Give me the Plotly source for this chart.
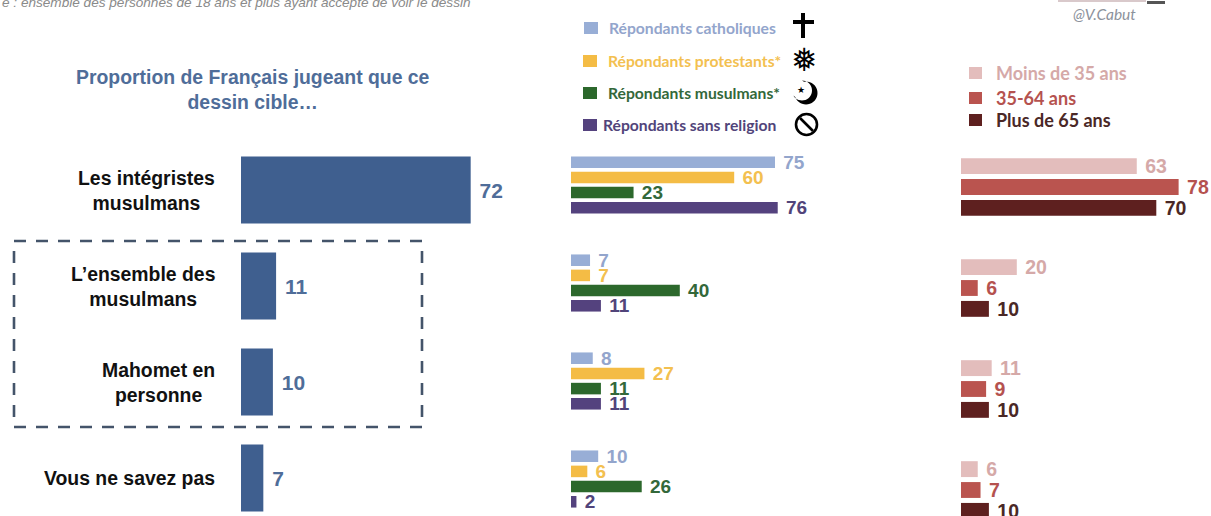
import math
import plotly.graph_objects as go

W, H = 1211, 516

# ---- data ----
categories = ["Les intégristes<br>musulmans", "L’ensemble des<br>musulmans",
              "Mahomet en<br>personne", "Vous ne savez pas"]
ensemble = [72, 11, 10, 7]
catholiques = [75, 7, 8, 10]
protestants = [60, 7, 27, 6]
musulmans = [23, 40, 11, 26]
sans_religion = [76, 11, 11, 2]
moins_35 = [63, 20, 11, 6]
de_35_64 = [78, 6, 9, 7]
plus_65 = [70, 10, 10, 10]

religion_names = ["Répondants catholiques", "Répondants protestants*",
                  "Répondants musulmans*", "Répondants sans religion"]
age_names = ["Moins de 35 ans", "35-64 ans", "Plus de 65 ans"]
title_text = "Proportion de Français jugeant que ce<br>dessin cible…"
note_text = "e : ensemble des personnes de 18 ans et plus ayant accepté de voir le dessin"
credit_text = "@V.Cabut"

# ---- styles ----
BLUE = "#3f5f8f"; BLUE_T = "#4f6d99"
C_CATH = "#98aed6"; C_PROT = "#f4bc45"; C_MUS = "#2c682c"; C_SANS = "#54427e"
T_CATH = "#93a5cc"; T_PROT = "#f3c050"; T_MUS = "#33683a"; T_SANS = "#51447a"
C_A1 = "#e3bdbc"; C_A2 = "#ba544f"; C_A3 = "#5e201f"
T_A1 = "#d5a9a8"; T_A2 = "#b5524f"; T_A3 = "#4a2826"
ARIAL = "Liberation Sans"
CALIBRI = "Lato"


def px(x):
    return x / W


def py(y):
    return 1 - y / H


def yrange(first_center, spacing):
    # reversed category axis filling the whole height
    return [(H - first_center) / spacing, -first_center / spacing]


def bars(values, name, color, tcolor, xa, ya, size, width=None, gap="\u00a0"):
    return go.Bar(
        y=categories, x=values, orientation="h", name=name, xaxis=xa, yaxis=ya,
        marker=dict(color=color, line=dict(width=0)), width=width,
        text=[gap + str(v) for v in values], textposition="outside",
        textfont=dict(family=ARIAL, size=size, color=tcolor, weight="bold"),
        cliponaxis=False, constraintext="none", showlegend=False, hoverinfo="skip",
    )


fig = go.Figure()
fig.add_trace(bars(ensemble, "Ensemble", BLUE, BLUE_T, "x", "y", 21, width=0.7))
for vals, n, c, t in zip([catholiques, protestants, musulmans, sans_religion], religion_names,
                         [C_CATH, C_PROT, C_MUS, C_SANS], [T_CATH, T_PROT, T_MUS, T_SANS]):
    fig.add_trace(bars(vals, n, c, t, "x2", "y2", 19))
for vals, n, c, t in zip([moins_35, de_35_64, plus_65], age_names,
                         [C_A1, C_A2, C_A3], [T_A1, T_A2, T_A3]):
    fig.add_trace(bars(vals, n, c, t, "x3", "y3", 19.5))

annotations = []
shapes = []


def label(text, x, y, size, color, family=ARIAL, xanchor="left", align="left", italic=False, bold=True):
    annotations.append(dict(
        text=text, x=px(x), y=py(y), xref="paper", yref="paper", showarrow=False,
        xanchor=xanchor, yanchor="middle", align=align,
        font=dict(family=family, size=size, color=color,
                  weight="bold" if bold else "normal",
                  style="italic" if italic else "normal"),
    ))


def square(x0, y0, x1, y1, color):
    shapes.append(dict(type="rect", xref="paper", yref="paper", x0=px(x0), x1=px(x1),
                       y0=py(y0), y1=py(y1), fillcolor=color, line=dict(width=0)))


# category labels (right edge aligned at the bar panel, lines centred)
for cat in categories:
    annotations.append(dict(
        text=cat, x=0, y=cat, xref="x", yref="y", xshift=-24, showarrow=False,
        xanchor="right", yanchor="middle", align="center",
        font=dict(family=ARIAL, size=19.4, color="#111111", weight="bold"),
    ))

label(title_text, 253, 90, 19.4, BLUE_T, xanchor="center", align="center")
label(note_text, 0, 2, 13.6, "#8a8a8a", italic=True, bold=False)
label(credit_text, 1071, 14, 15.5, "#8c929c", family=CALIBRI, italic=True, bold=False)

# religion legend
for name, y, sx0, tx, col, tcol in zip(
        religion_names, [28, 61, 93, 125], [584, 583, 583, 583], [607, 606, 606, 601],
        [C_CATH, C_PROT, C_MUS, C_SANS], [T_CATH, T_PROT, T_MUS, T_SANS]):
    square(sx0, y - 6, sx0 + 14, y + 6, col)
    label(name, tx, y, 15.7, tcol, family=CALIBRI)

# age legend
for name, y, col, tcol in zip(age_names, [73, 98, 120], [C_A1, C_A2, C_A3], [T_A1, T_A2, T_A3]):
    square(969, y - 6, 982, y + 6, col)
    label(name, 994, y, 18, tcol, family=CALIBRI)

# icons
square(801, 13, 805, 38, "#000000")
square(793, 20, 814, 24, "#000000")
label("❅", 804, 60, 32, "#000000", family="DejaVu Sans", xanchor="center", align="center", bold=False)
# crescent outline built in picture pixels
outer = [(806 + 11.5 * math.cos(math.radians(a)), 93 + 11.5 * math.sin(math.radians(a))) for a in range(-100, 161, 10)]
inner = [(802 + 10 * math.cos(math.radians(a)), 90.5 + 10 * math.sin(math.radians(a))) for a in range(150, -91, -10)]
path = "M " + " L ".join(f"{px(a):.5f},{py(b):.5f}" for a, b in outer + inner) + " Z"
shapes.append(dict(type="path", xref="paper", yref="paper", path=path, fillcolor="#000000", line=dict(width=0)))
label("★", 801, 90, 9, "#000000", family="DejaVu Sans", xanchor="center", align="center", bold=False)
shapes.append(dict(type="circle", xref="paper", yref="paper", x0=px(796), x1=px(817), y0=py(114), y1=py(135),
                   line=dict(color="#000000", width=2.6)))
shapes.append(dict(type="line", xref="paper", yref="paper", x0=px(800), x1=px(813), y0=py(118), y1=py(131),
                   line=dict(color="#000000", width=2.6)))

# remains of the logo at the top edge
square(1058, 0, 1146, 2, "#d9c9cb")
square(1147, 1, 1165, 4, "#555555")

# dashed frame
shapes.append(dict(type="rect", xref="paper", yref="paper", x0=px(14), x1=px(422), y0=py(241), y1=py(427),
                   line=dict(color="#44546a", width=2.6, dash="12px,10px")))

axis = dict(visible=False, fixedrange=True)


def xdom(x0, x1, scale):
    return dict(axis, domain=[px(x0), px(x1)], range=[0, (x1 - x0) / scale])


def ydom(first, spacing, anchor):
    return dict(axis, domain=[0, 1], range=yrange(first, spacing), type="category",
                categoryorder="array", categoryarray=categories, anchor=anchor)


fig.update_layout(
    width=W, height=H, margin=dict(l=0, r=0, t=0, b=0, pad=0, autoexpand=False),
    paper_bgcolor="white", plot_bgcolor="white",
    barmode="group", bargap=0.38, bargroupgap=0.24,
    xaxis=dict(xdom(241, 540, 3.19), anchor="y"),
    xaxis2=dict(xdom(571, 940, 2.72), anchor="y2"),
    xaxis3=dict(xdom(961, 1211, 2.79), anchor="y3"),
    yaxis=ydom(190, 96, "x"),
    yaxis2=ydom(185, 98, "x2"),
    yaxis3=ydom(187, 101, "x3"),
    annotations=annotations, shapes=shapes,
    font=dict(family=ARIAL),
    hovermode=False,
)

fig.write_html("out.html", config={"displayModeBar": False},
               post_script="document.body.style.margin='0';document.body.style.overflow='hidden';")
